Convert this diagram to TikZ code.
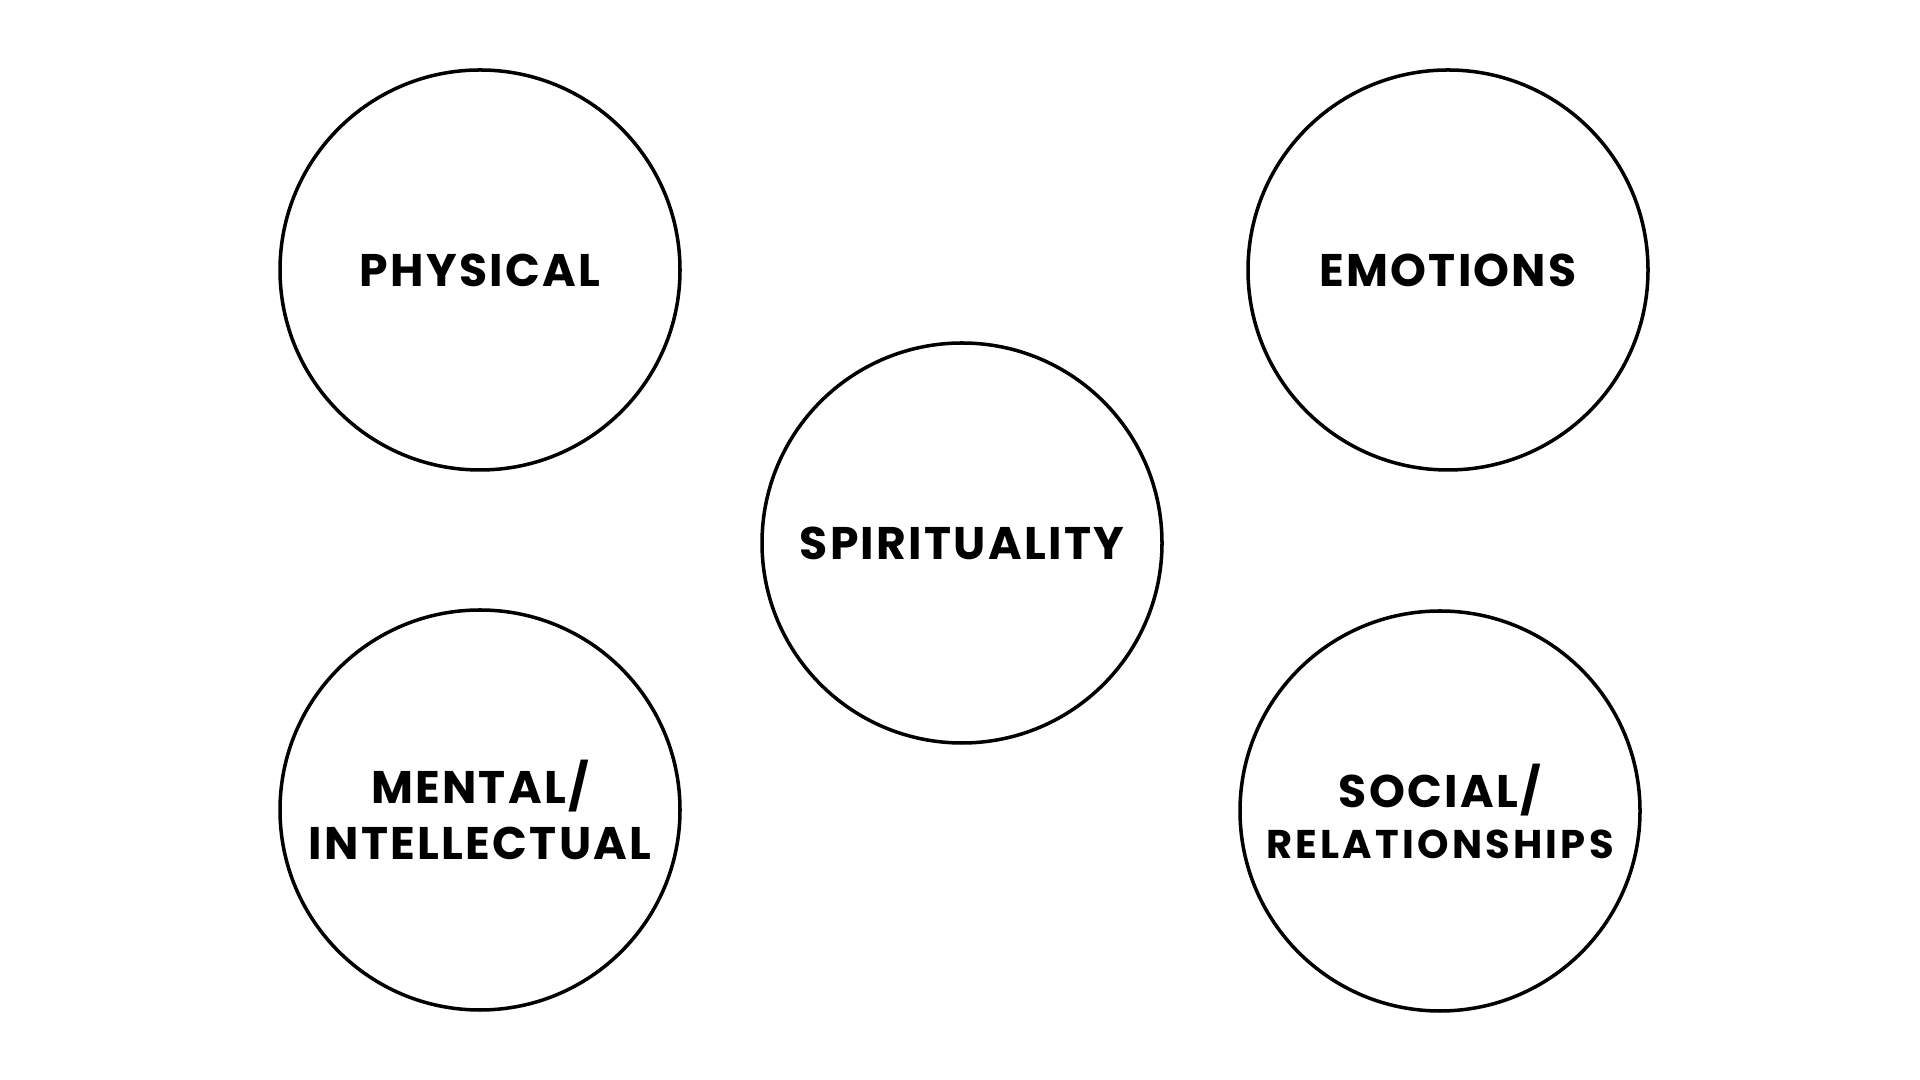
\documentclass[tikz,border=0pt]{standalone}
\usepackage{fontspec}
\setmainfont{Poppins}[LetterSpace=5]
\begin{document}
\begin{tikzpicture}[
  area/.style={circle,draw,line width=1pt,minimum size=4cm,inner sep=0pt,align=center,
    font=\bfseries\fontsize{13}{16}\selectfont}]
\useasboundingbox (0,0) rectangle (19.2,10.8);
\node[area] (physical) at (4.80,8.10) {PHYSICAL};
\node[area] (emotions) at (14.48,8.10) {EMOTIONS};
\node[area] (spirituality) at (9.62,5.37) {SPIRITUALITY};
\node[area] (mental) at (4.80,2.70) {MENTAL/\\INTELLECTUAL};
\node[area] (social) at (14.40,2.69) {SOCIAL/\\[-1.5pt]{\addfontfeatures{LetterSpace=8}\fontsize{11.4}{13}\selectfont RELATIONSHIPS}};
\end{tikzpicture}
\end{document}
